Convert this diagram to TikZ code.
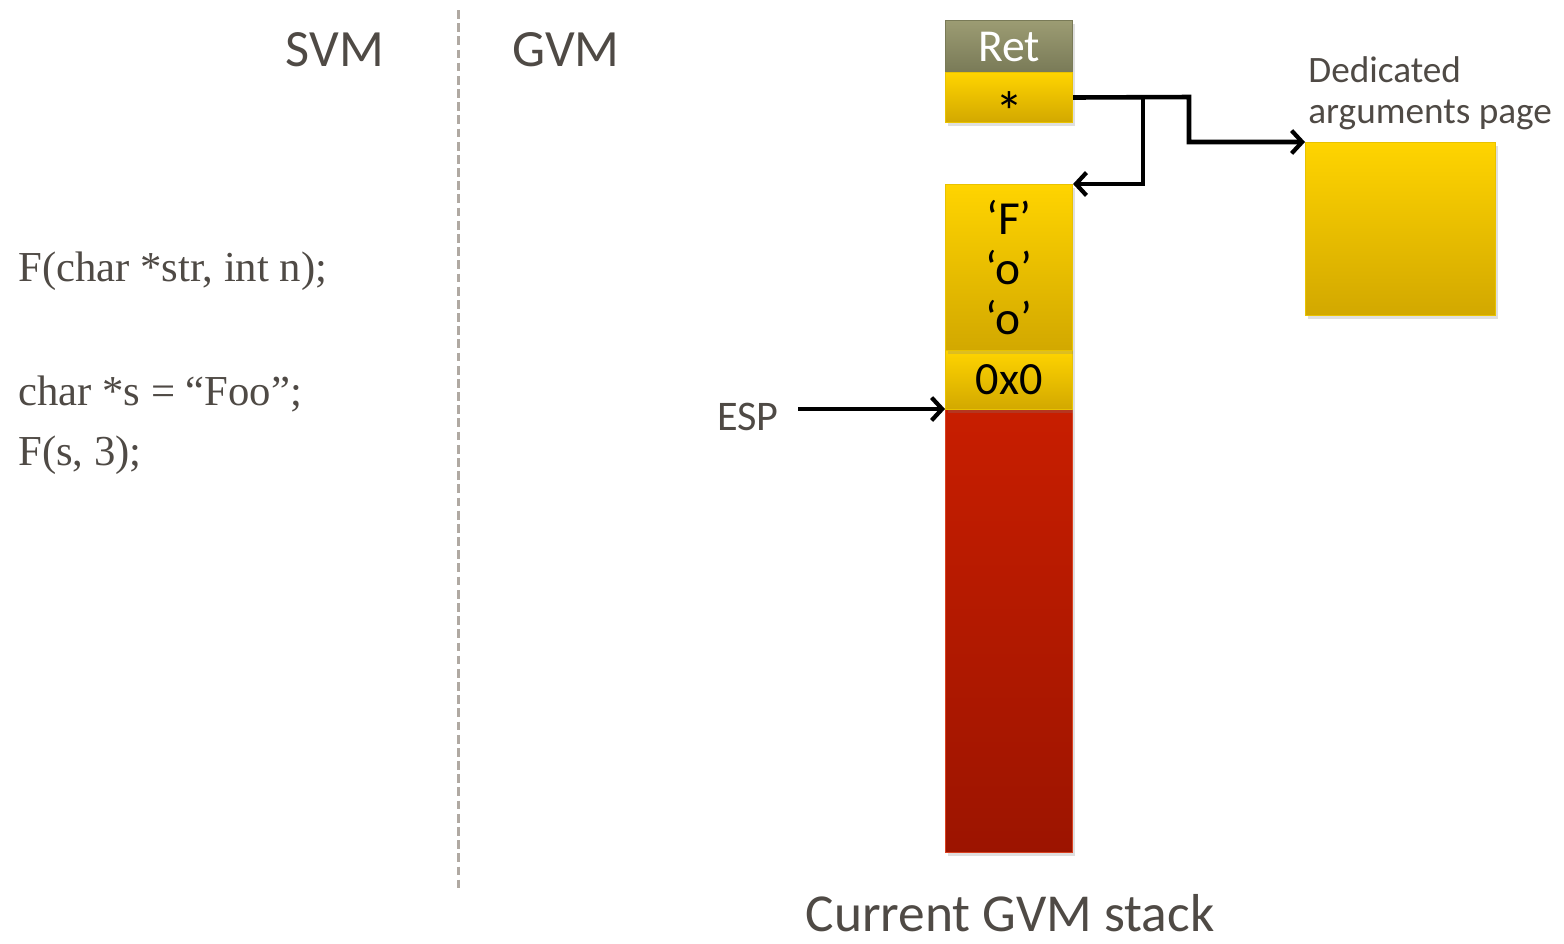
\documentclass[tikz,border=0pt]{standalone}
\usepackage{fontspec}
\setmainfont{Carlito}
\newfontfamily\codefont{Liberation Serif}
\usetikzlibrary{positioning,shadows,arrows.meta}
\definecolor{ink}{HTML}{4F4A45}
\definecolor{divider}{HTML}{B0A9A2}
\definecolor{goldtop}{HTML}{FFD400}
\definecolor{goldbot}{HTML}{D2A800}
\definecolor{goldedge}{HTML}{E9C200}
\definecolor{olivetop}{HTML}{9C9C73}
\definecolor{olivebot}{HTML}{797A57}
\definecolor{redtop}{HTML}{C81E00}
\definecolor{redbot}{HTML}{9C1400}
\definecolor{rededge}{HTML}{D84020}

\begin{document}
\begin{tikzpicture}[x=0.02cm,y=-0.02cm,
  cell/.style={anchor=north west,inner sep=0pt,minimum width=2.54cm,
    drop shadow={opacity=0.25,shadow xshift=1.5pt,shadow yshift=-2pt}},
  goldcell/.style={cell,draw=goldedge,line width=0.6pt,top color=goldtop,bottom color=goldbot},
  ptr/.style={-{Straight Barb[length=6pt,width=13pt,line width=2.4pt]},line width=2.6pt,black},
  title/.style={text=ink,font=\fontsize{29.8}{34}\selectfont},
  note/.style={text=ink,font=\fontsize{21.2}{22.8}\selectfont},
  code/.style={anchor=base west,inner sep=0pt,text=ink,font=\codefont\fontsize{24.3}{30}\selectfont},
  stacktext/.style={font=\fontsize{27}{28.45}\selectfont,align=center}]
  \useasboundingbox (0,0) rectangle (1564,943);

  % split between the two machines
  \draw[divider,line width=1.7pt,dash pattern=on 5pt off 2.5pt] (458,10) -- (458,892);
  \node[title] (svm) at (335,50) {SVM};
  \node[title] (gvm) at (566,50) {GVM};

  % caller side source
  \node[code] (proto) at (18,281) {F(char *str, int n);};
  \node[code] (decl) at (18,405) {char *s = “Foo”;};
  \node[code] (call) at (18,465) {F(s, 3);};

  % return slot and argument pointer
  \node[cell,draw=olivebot,line width=0.6pt,top color=olivetop,bottom color=olivebot,minimum height=1.04cm,
    text=white,font=\fontsize{26}{30}\selectfont] (ret) at (945,20) {Ret};
  \node[goldcell,minimum height=1.0cm,text height=0pt,text depth=0pt,
    font=\fontsize{32}{32}\selectfont] (ptrcell) at (945,72) {\smash{\raisebox{-0.6em}{*}}};

  % the stack itself
  \node[cell,draw=rededge,line width=0.6pt,top color=redtop,bottom color=redbot,minimum height=8.86cm] (red) at (945,409) {};
  \node[goldcell,minimum height=1.18cm,font=\fontsize{26.3}{30}\selectfont] (nul) at (945,350) {0x0};
  \node[goldcell,minimum height=3.32cm,stacktext] (str) at (945,184) {‘F’\\‘o’\\‘o’};
  \node[text=ink,inner sep=0pt,font=\fontsize{30.4}{34}\selectfont] (caption) at (1010,913) {Current GVM stack};

  % separate page for the arguments
  \node[goldcell,minimum width=3.8cm,minimum height=3.46cm] (page) at (1305,142) {};
  \node[note,anchor=base west,inner sep=0pt,align=left] (pagelabel) at (1308,123) {Dedicated\\arguments page};

  % stack pointer
  \node[note,font=\fontsize{24}{28}\selectfont] (esp) at (748,417) {ESP};
  \coordinate (esptail) at (798,409);
  \draw[ptr] (esptail) -- (red.north west);

  % where the pointer leads
  \coordinate (fork) at (1143,97);
  \coordinate (jog) at (1189,97);
  \draw[ptr] (ptrcell.east) -- (jog) |- (page.north west);
  \draw[ptr] (fork) |- (str.north east);
\end{tikzpicture}
\end{document}
